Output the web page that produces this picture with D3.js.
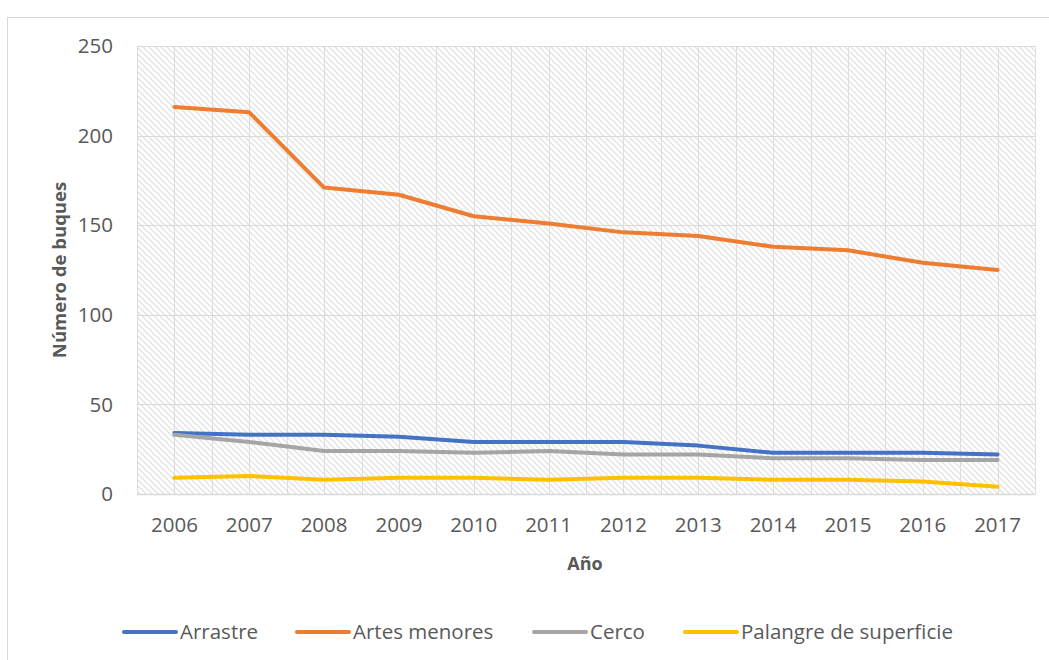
<!DOCTYPE html>
<html>
<head>
<meta charset="utf-8">
<script src="https://cdn.jsdelivr.net/npm/d3@7"></script>
<style>
  body { margin: 0; background: #fff; }
  text { font-family: "Open Sans", "DejaVu Sans", sans-serif; fill: #595959; }
</style>
</head>
<body>
<div id="chart"></div>
<script>
// chart values
const years = ["2006","2007","2008","2009","2010","2011","2012","2013","2014","2015","2016","2017"];
const arrastre = [34, 33, 33, 32, 29, 29, 29, 27, 23, 23, 23, 22];
const artesMenores = [216, 213, 171, 167, 155, 151, 146, 144, 138, 136, 129, 125];
const cerco = [33, 29, 24, 24, 23, 24, 22, 22, 20, 20, 19, 19];
const palangre = [9, 10, 8, 9, 9, 8, 9, 9, 8, 8, 7, 4];
const yTicks = [0, 50, 100, 150, 200, 250];

const series = [
    {name: "Arrastre", values: arrastre, color: "#4472C4"},
    {name: "Artes menores", values: artesMenores, color: "#ED7D31"},
    {name: "Cerco", values: cerco, color: "#A5A5A5"},
    {name: "Palangre de superficie", values: palangre, color: "#FFC000"}
];

const width = 1049, height = 660;
const plot = {left: 137, right: 1035, top: 46, bottom: 494};

const svg = d3.select("#chart").append("svg")
    .attr("width", width)
    .attr("height", height);

// chart frame (runs off the picture at right and bottom)
svg.append("rect")
    .attr("x", 7.5).attr("y", 17.5)
    .attr("width", 1100).attr("height", 700)
    .attr("fill", "#fff")
    .attr("stroke", "#D9D9D9");

// hatch pattern for the plot area
const defs = svg.append("defs");
const pat = defs.append("pattern")
    .attr("id", "hatch")
    .attr("patternUnits", "userSpaceOnUse")
    .attr("width", 6).attr("height", 6);
pat.append("rect").attr("width", 6).attr("height", 6).attr("fill", "#fff");
pat.append("path")
    .attr("d", "M-1,-1 L7,7 M-4,2 L2,8 M2,-4 L8,2")
    .attr("stroke", "#E3E3E3")
    .attr("stroke-width", 1.3);

const x = d3.scaleBand().domain(years).range([plot.left, plot.right]);
const y = d3.scaleLinear().domain([0, 250]).range([plot.bottom, plot.top]);

svg.append("rect")
    .attr("x", plot.left).attr("y", plot.top)
    .attr("width", plot.right - plot.left)
    .attr("height", plot.bottom - plot.top)
    .attr("fill", "url(#hatch)");

// vertical gridlines at category edges and centres
let vLines = [];
years.forEach(yr => { vLines.push(x(yr)); vLines.push(x(yr) + x.bandwidth() / 2); });
vLines.push(plot.right);
svg.selectAll(".vgrid").data(vLines)
    .enter().append("line")
    .attr("x1", d => Math.round(d) + 0.5).attr("x2", d => Math.round(d) + 0.5)
    .attr("y1", plot.top).attr("y2", plot.bottom)
    .attr("stroke", "#DDDDDD").attr("stroke-width", 1);

// horizontal gridlines
svg.selectAll(".hgrid").data(yTicks)
    .enter().append("line")
    .attr("x1", plot.left).attr("x2", plot.right)
    .attr("y1", d => Math.round(y(d)) + 0.5).attr("y2", d => Math.round(y(d)) + 0.5)
    .attr("stroke", "#D9D9D9").attr("stroke-width", d => d === 0 ? 1.5 : 1);

// y tick labels
svg.selectAll(".ylab").data(yTicks)
    .enter().append("text")
    .attr("x", 113)
    .attr("y", d => y(d))
    .attr("dy", "0.35em")
    .attr("text-anchor", "end")
    .style("font-size", "20.5px")
    .text(d => d);

// x tick labels
svg.selectAll(".xlab").data(years)
    .enter().append("text")
    .attr("x", d => x(d) + x.bandwidth() / 2)
    .attr("y", 525)
    .attr("dy", "0.35em")
    .attr("text-anchor", "middle")
    .style("font-size", "20.5px")
    .text(d => d);

// axis titles
svg.append("text")
    .attr("x", 585).attr("y", 564)
    .attr("dy", "0.35em")
    .attr("text-anchor", "middle")
    .style("font-size", "18px").style("font-weight", "bold")
    .text("Año");

svg.append("text")
    .attr("transform", "translate(60,270) rotate(-90)")
    .attr("dy", "0.35em")
    .attr("text-anchor", "middle")
    .style("font-size", "18.5px").style("font-weight", "bold")
    .text("Número de buques");

// series lines
const line = d3.line()
    .x((d, i) => x(years[i]) + x.bandwidth() / 2)
    .y(d => y(d));

svg.selectAll(".series").data(series)
    .enter().append("path")
    .attr("d", d => line(d.values))
    .attr("fill", "none")
    .attr("stroke", d => d.color)
    .attr("stroke-width", 4)
    .attr("stroke-linejoin", "round")
    .attr("stroke-linecap", "round");

// legend
const legendX = [122, 295, 532, 683];
const legend = svg.selectAll(".legend").data(series)
    .enter().append("g")
    .attr("transform", (d, i) => "translate(" + legendX[i] + ",632)");
legend.append("line")
    .attr("x1", 2).attr("x2", 54)
    .attr("stroke", d => d.color)
    .attr("stroke-width", 4)
    .attr("stroke-linecap", "round");
legend.append("text")
    .attr("x", 58)
    .attr("dy", "0.35em")
    .style("font-size", "20.5px")
    .text(d => d.name);
</script>
</body>
</html>
